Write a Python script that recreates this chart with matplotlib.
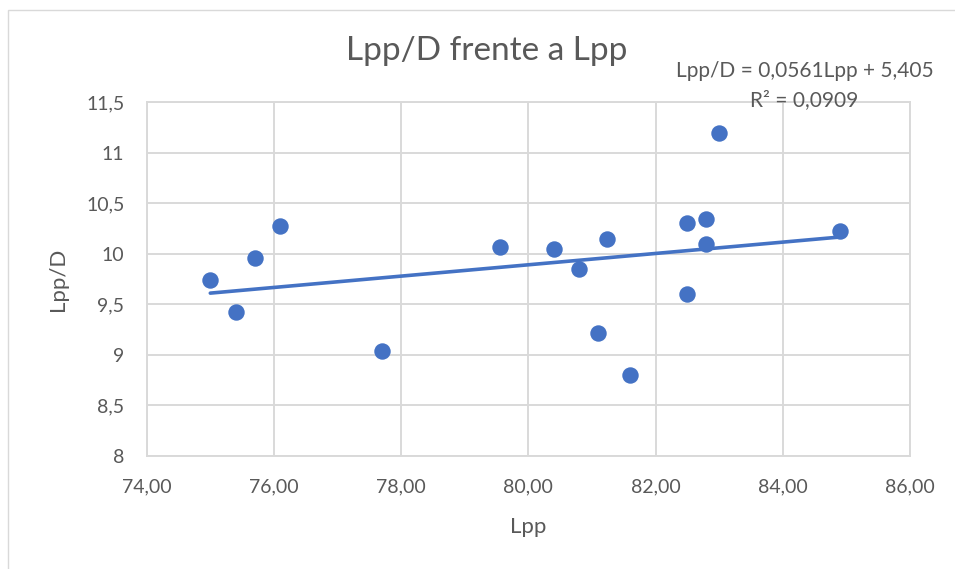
import matplotlib.pyplot as plt
from matplotlib.patches import Rectangle

# datos
lpp = [75.0, 75.4, 75.7, 76.1, 77.7, 79.55, 80.4, 80.8, 81.1, 81.23,
       81.6, 82.5, 82.5, 82.8, 82.8, 83.0, 84.9]
lpp_d = [9.74, 9.43, 9.96, 10.28, 9.04, 10.07, 10.05, 9.85, 9.22, 10.15,
         8.80, 10.31, 9.60, 10.35, 10.10, 11.20, 10.23]

# recta de tendencia (Excel)
pendiente = 0.0561
ordenada = 5.405

x_ticks = [74, 76, 78, 80, 82, 84, 86]
x_labels = ["74,00", "76,00", "78,00", "80,00", "82,00", "84,00", "86,00"]
y_ticks = [8, 8.5, 9, 9.5, 10, 10.5, 11, 11.5]
y_labels = ["8", "8,5", "9", "9,5", "10", "10,5", "11", "11,5"]

azul = "#4472C4"
gris_txt = "#595959"
gris_grid = "#D9D9D9"
plt.rcParams["font.family"] = ["Lato", "DejaVu Sans"]

fig = plt.figure(figsize=(9.55, 5.69), dpi=100)
ax = fig.add_axes([0.1536, 0.1986, 0.7993, 0.6213])

# marco exterior
fig.patches.append(Rectangle((8 / 955, -0.05), 1.1, 1 - 10 / 569 + 0.05,
                             transform=fig.transFigure, fill=False,
                             edgecolor=gris_grid, linewidth=1))

ax.scatter(lpp, lpp_d, s=140, color=azul, zorder=3, linewidths=0)
x0, x1 = min(lpp), max(lpp)
ax.plot([x0, x1], [pendiente * x0 + ordenada, pendiente * x1 + ordenada],
        color=azul, linewidth=2.6, zorder=2, solid_capstyle="round")

ax.set_xlim(74, 86)
ax.set_ylim(8, 11.5)
ax.set_xticks(x_ticks)
ax.set_xticklabels(x_labels)
ax.set_yticks(y_ticks)
ax.set_yticklabels(y_labels)
ax.tick_params(length=0, labelsize=14, colors=gris_txt)
ax.tick_params(axis="x", pad=16)
ax.tick_params(axis="y", pad=16)
ax.grid(True, color=gris_grid, linewidth=1.4)
ax.set_axisbelow(True)
for sp in ax.spines.values():
    sp.set_color(gris_grid)
    sp.set_linewidth(1.4)

ax.set_xlabel("Lpp", fontsize=16, color=gris_txt, labelpad=16)
ax.set_ylabel("Lpp/D", fontsize=16, color=gris_txt, labelpad=13)

fig.text(0.5093, 0.8946, "Lpp/D frente a Lpp", ha="center", va="baseline",
         fontsize=24, color=gris_txt)
fig.text(0.8424, 0.864, "Lpp/D = 0,0561Lpp + 5,405", ha="center",
         va="baseline", fontsize=15, color=gris_txt)
fig.text(0.8424, 0.8137, "R² = 0,0909", ha="center", va="baseline",
         fontsize=15, color=gris_txt)

fig.savefig("out.png", dpi=100)
